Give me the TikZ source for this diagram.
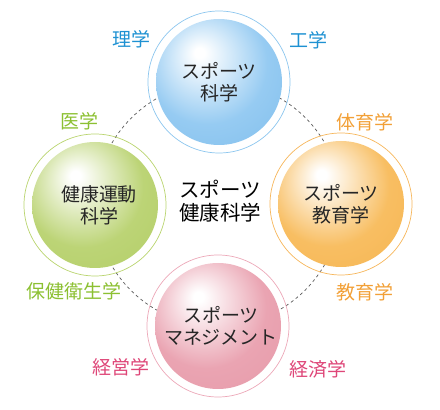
\documentclass[tikz,border=0pt]{standalone}
\usepackage{fontspec}
\setmainfont{Noto Sans CJK JP}
\usetikzlibrary{backgrounds}
\definecolor{blueR}{RGB}{140,198,238}
\definecolor{blueM}{RGB}{150,203,242}
\definecolor{blueE}{RGB}{108,178,230}
\definecolor{blueL}{RGB}{30,145,210}
\definecolor{greenR}{RGB}{185,212,110}
\definecolor{greenM}{RGB}{188,212,118}
\definecolor{greenE}{RGB}{170,200,88}
\definecolor{greenL}{RGB}{140,192,50}
\definecolor{orangeR}{RGB}{246,182,90}
\definecolor{orangeM}{RGB}{248,190,98}
\definecolor{orangeE}{RGB}{244,172,66}
\definecolor{orangeL}{RGB}{242,160,55}
\definecolor{pinkR}{RGB}{236,168,184}
\definecolor{pinkM}{RGB}{234,164,178}
\definecolor{pinkE}{RGB}{226,144,160}
\definecolor{pinkL}{RGB}{222,70,120}
\pgfdeclareradialshading{blueball}{\pgfpoint{-8bp}{12bp}}{color(0bp)=(white); color(2bp)=(white); color(24bp)=(blueM); color(60bp)=(blueE)}
\pgfdeclareradialshading{greenball}{\pgfpoint{-8bp}{12bp}}{color(0bp)=(white); color(2bp)=(white); color(24bp)=(greenM); color(60bp)=(greenE)}
\pgfdeclareradialshading{orangeball}{\pgfpoint{-8bp}{12bp}}{color(0bp)=(white); color(2bp)=(white); color(24bp)=(orangeM); color(60bp)=(orangeE)}
\pgfdeclareradialshading{pinkball}{\pgfpoint{-8bp}{12bp}}{color(0bp)=(white); color(2bp)=(white); color(24bp)=(pinkM); color(60bp)=(pinkE)}
\tikzset{
  ring/.style={circle, minimum size=142pt, inner sep=0pt, draw=#1, line width=0.7pt},
  intext/.style={align=center, text=black!85, font=\fontsize{19}{22}\selectfont},
  hubtext/.style={align=center, text=black, font=\fontsize{20.5}{23}\selectfont},
  lab/.style={text=#1, font=\fontsize{19}{22}\selectfont, inner sep=0pt},
  conn/.style={draw=black!65, line width=0.7pt, dash pattern=on 3pt off 3pt},
}
\begin{document}
\begin{tikzpicture}[x=1pt, y=1pt]
\useasboundingbox (0,0) rectangle (440,410);
% rings
\node[ring=blueR] (sci) at (219,328) {};
\node[ring=greenR] (hlth) at (95,205) {};
\node[ring=orangeR] (edu) at (341,206) {};
\node[ring=pinkR] (mgmt) at (218,84) {};
% dashed connectors
\begin{scope}[on background layer]
\draw[conn] (sci.center) to[bend right=45] (hlth.center);
\draw[conn] (hlth.center) to[bend right=45] (mgmt.center);
\draw[conn] (mgmt.center) to[bend right=45] (edu.center);
\draw[conn] (edu.center) to[bend right=45] (sci.center);
\end{scope}
% balls
\shade[shading=blueball] (sci.center) circle[radius=63pt];
\shade[shading=greenball] (hlth.center) circle[radius=63pt];
\shade[shading=orangeball] (edu.center) circle[radius=63pt];
\shade[shading=pinkball] (mgmt.center) circle[radius=63pt];
% texts in balls
\node[intext] (sciT) at (sci.center) {スポーツ\\科学};
\node[intext] (hlthT) at ([xshift=4pt]hlth.center) {健康運動\\科学};
\node[intext] (eduT) at (edu.center) {スポーツ\\教育学};
\node[intext] (mgmtT) at ([xshift=3pt]mgmt.center) {スポーツ\\マネジメント};
\node[hubtext] (hub) at (220,209) {スポーツ\\健康科学};
% labels
\node[lab=blueL] (l1) at (131,371) {理学};
\node[lab=blueL] (l2) at (308,370) {工学};
\node[lab=greenL] (l3) at (79,289) {医学};
\node[lab=greenL] (l4) at (74,119) {保健衛生学};
\node[lab=orangeL] (l5) at (365,288) {体育学};
\node[lab=orangeL] (l6) at (365,118) {教育学};
\node[lab=pinkL] (l7) at (121,43) {経営学};
\node[lab=pinkL] (l8) at (318,41) {経済学};
\end{tikzpicture}
\end{document}
